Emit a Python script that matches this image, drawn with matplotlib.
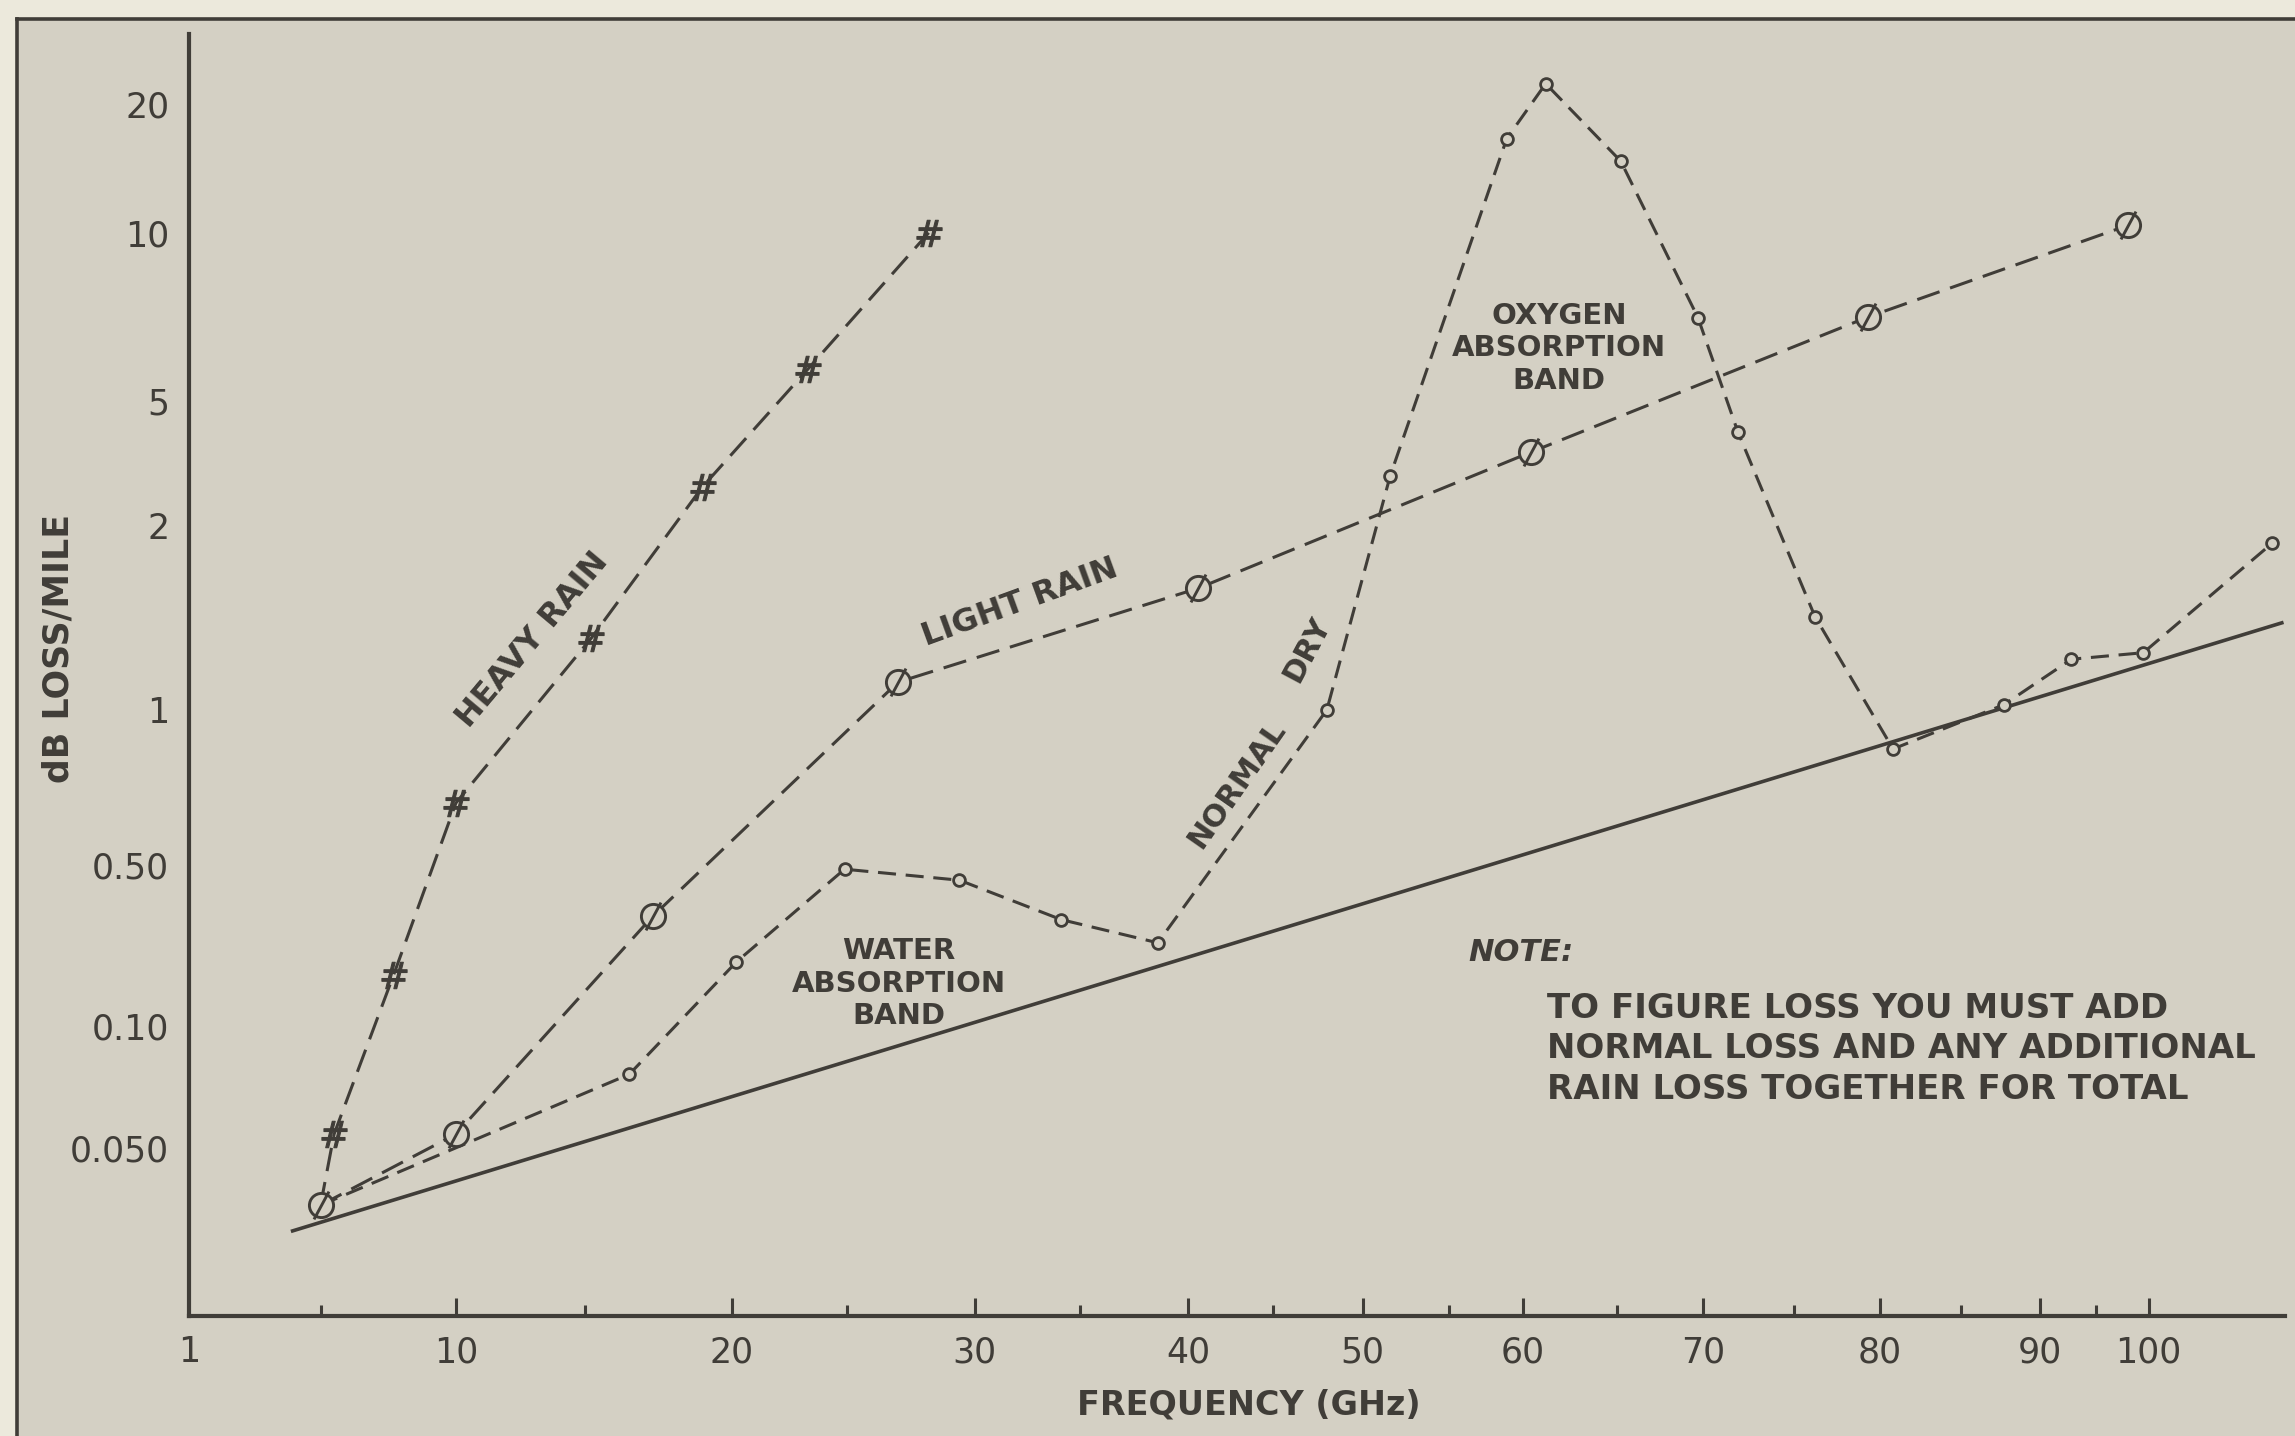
import numpy as np
import matplotlib
matplotlib.use("Agg")
import matplotlib.pyplot as plt
from matplotlib.path import Path
from matplotlib.lines import Line2D
from matplotlib.patches import Rectangle
from matplotlib.ticker import NullLocator, NullFormatter

# ---------------- data (frequency in GHz, loss in dB/mile) ----------------
NORMAL_FREQ = [4.1, 112.8]
NORMAL_LOSS = [0.031, 1.39]

HEAVY_FREQ = [5.0, 5.5, 7.7, 10.0, 15.2, 19.0, 23.3, 28.2]
HEAVY_LOSS = [0.036, 0.054, 0.167, 0.66, 1.31, 2.66, 5.7, 10.0]

LIGHT_FREQ = [5.0, 10.0, 17.3, 27.0, 40.6, 60.4, 79.3, 98.0]
LIGHT_LOSS = [0.036, 0.054, 0.30, 1.11, 1.58, 3.43, 7.07, 10.4]

DRY_FREQ = [5.0, 16.5, 20.2, 24.9, 29.4, 34.1, 38.6, 48.0, 51.6, 58.9, 61.2,
            65.2, 69.7, 71.9, 76.2, 80.8, 87.7, 92.8, 99.5, 111.7]
DRY_LOSS = [0.036, 0.076, 0.19, 0.48, 0.43, 0.29, 0.23, 1.0, 2.89, 16.6, 22.3,
            14.7, 7.05, 3.99, 1.42, 0.84, 1.02, 1.21, 1.24, 1.87]

X_TICKS = [10, 20, 30, 40, 50, 60, 70, 80, 90, 100]
X_TICK_LABELS = ["10", "20", "30", "40", "50", "60", "70", "80", "90", "100"]
X_MINOR_TICKS = [5, 15, 25, 35, 45, 55, 65, 75, 85, 95]
Y_TICKS = [0.05, 0.1, 0.5, 1, 2, 5, 10, 20]
Y_TICK_LABELS = ["0.050", "0.10", "0.50", "1", "2", "5", "10", "20"]

# ---------------- calibration of the hand-drawn (non-uniform) axes ----------------
X_CAL_VALUES = [1, 5, 10, 15, 20, 25, 30, 35, 40, 45, 50, 55, 60, 65, 70, 75,
                80, 85, 90, 95, 100]
X_CAL_POS = [129, 219, 311.5, 400, 500, 578.6, 666, 738, 811.7, 869.8, 931,
             990, 1040.6, 1105, 1163.6, 1226, 1284.5, 1340, 1394, 1432, 1468]
Y_CAL_VALUES = [0.05, 0.1, 0.5, 1, 2, 5, 10, 20]
Y_CAL_POS = [784, 701, 591, 485, 359, 274, 159, 71]

XV = np.array(X_CAL_VALUES, float)
XP = np.array(X_CAL_POS, float)
LV = np.log10(np.array(Y_CAL_VALUES, float))
YN = -np.array(Y_CAL_POS, float)


def _interp_ext(v, xs, ys):
    v = np.asarray(v, dtype=float)
    out = np.interp(v, xs, ys)
    lo = (ys[1] - ys[0]) / (xs[1] - xs[0])
    hi = (ys[-1] - ys[-2]) / (xs[-1] - xs[-2])
    out = np.where(v < xs[0], ys[0] + (v - xs[0]) * lo, out)
    out = np.where(v > xs[-1], ys[-1] + (v - xs[-1]) * hi, out)
    return out


def fwd_x(v):
    return _interp_ext(v, XV, XP)


def inv_x(p):
    return _interp_ext(p, XP, XV)


def fwd_y(v):
    v = np.clip(np.asarray(v, dtype=float), 1e-12, None)
    return _interp_ext(np.log10(v), LV, YN)


def inv_y(p):
    return 10 ** _interp_ext(p, YN, LV)


# ---------------- styling ----------------
W, H = 1568.0, 981.0          # reference layout units
OUTER = "#ece9dc"
INNER = "#d4d0c4"
INK = "#403d38"
FONT = "DejaVu Sans"
plt.rcParams["font.family"] = FONT
plt.rcParams["lines.scale_dashes"] = False


def P(px, py):
    return (px / W, 1 - py / H)


fig = plt.figure(figsize=(22.95, 14.36), dpi=100, facecolor=OUTER)

# paper panel with frame (top and left edges visible)
fx0, fy0 = P(16.5 / 1.4636, 19 / 1.4636)
fig.add_artist(Rectangle((fx0, 0), 1.01 - fx0, fy0, transform=fig.transFigure,
                         facecolor=INNER, edgecolor="none", zorder=-10))
fig.add_artist(Line2D([fx0, 1.01], [fy0, fy0], transform=fig.transFigure,
                      color=INK, lw=2.6, zorder=-5))
fig.add_artist(Line2D([fx0, fx0], [-0.01, fy0], transform=fig.transFigure,
                      color=INK, lw=2.6, zorder=-5))

ax_l, ax_r, ax_t, ax_b = 129, 1561, 23, 899
ax = fig.add_axes([ax_l / W, 1 - ax_b / H, (ax_r - ax_l) / W, (ax_b - ax_t) / H])
ax.set_facecolor("none")
ax.set_xscale("function", functions=(fwd_x, inv_x))
ax.set_yscale("function", functions=(fwd_y, inv_y))
ax.set_xlim(float(inv_x(ax_l)), float(inv_x(ax_r)))
ax.set_ylim(float(inv_y(-ax_b)), float(inv_y(-ax_t)))

for s in ["top", "right"]:
    ax.spines[s].set_visible(False)
for s in ["left", "bottom"]:
    ax.spines[s].set_color(INK)
    ax.spines[s].set_linewidth(3.0)

ax.set_xticks(X_TICKS)
ax.set_xticklabels(X_TICK_LABELS)
ax.set_xticks(X_MINOR_TICKS, minor=True)
ax.xaxis.set_minor_formatter(NullFormatter())
ax.set_yticks(Y_TICKS)
ax.set_yticklabels(Y_TICK_LABELS)
ax.yaxis.set_minor_locator(NullLocator())
ax.tick_params(axis="x", which="major", direction="in", length=13, width=2.2,
               color=INK, pad=14, labelsize=25, labelcolor=INK)
ax.tick_params(axis="x", which="minor", direction="in", length=8, width=2.2,
               color=INK)
ax.tick_params(axis="y", which="major", length=0, pad=14, labelsize=25,
               labelcolor=INK)
ax.annotate("1", xy=(1, 0), xycoords=("data", "axes fraction"),
            xytext=(0, -14), textcoords="offset points", ha="center",
            va="top", fontsize=25, color=INK, annotation_clip=False)

# ---------------- curves ----------------
slash_o = Path.make_compound_path(
    Path.unit_circle(),
    Path([(-0.62, -1.15), (0.62, 1.15)], [Path.MOVETO, Path.LINETO]))

ax.plot(NORMAL_FREQ, NORMAL_LOSS, color=INK, lw=2.6, solid_capstyle="butt",
        zorder=2)

ax.plot(HEAVY_FREQ, HEAVY_LOSS, color=INK, lw=2.2, linestyle=(0, (17, 8)),
        marker=r"$\#$", markersize=19, markevery=slice(1, None),
        markerfacecolor=INK, markeredgecolor=INK, markeredgewidth=0.8,
        zorder=3)

ax.plot(DRY_FREQ, DRY_LOSS, color=INK, lw=2.2, linestyle=(0, (13, 7)),
        marker="o", markersize=8.5, markevery=slice(1, None),
        markerfacecolor=INNER, markeredgecolor=INK, markeredgewidth=2.0,
        zorder=3)

ax.plot(LIGHT_FREQ, LIGHT_LOSS, color=INK, lw=2.2, linestyle=(0, (17, 8)),
        marker=slash_o, markersize=20, markerfacecolor=INNER,
        markeredgecolor=INK, markeredgewidth=2.1, zorder=4)

# ---------------- annotations ----------------
def ftext(px, py, s, **kw):
    kw.setdefault("fontsize", 21)
    kw.setdefault("color", INK)
    kw.setdefault("ha", "center")
    kw.setdefault("va", "center")
    kw.setdefault("fontweight", "bold")
    fig.text(*P(px, py), s, **kw)


ftext(364, 437, "HEAVY RAIN", rotation=50, rotation_mode="anchor", fontsize=23)
ftext(697, 412, "LIGHT RAIN", rotation=20, rotation_mode="anchor", fontsize=23)
ftext(845, 536, "NORMAL", rotation=55, rotation_mode="anchor", fontsize=22)
ftext(893, 444, "DRY", rotation=62, rotation_mode="anchor", fontsize=22)
ftext(1065, 238, "OXYGEN\nABSORPTION\nBAND", multialignment="center",
      linespacing=1.2)
ftext(614, 672, "WATER\nABSORPTION\nBAND", multialignment="center",
      linespacing=1.2)
ftext(1003, 651, "NOTE:", ha="left", style="italic", fontsize=22)
ftext(1057, 716.5,
      "TO FIGURE LOSS YOU MUST ADD\nNORMAL LOSS AND ANY ADDITIONAL\n"
      "RAIN LOSS TOGETHER FOR TOTAL",
      ha="left", multialignment="left", fontsize=24.5, linespacing=1.3)
ftext(40, 443, "dB LOSS/MILE", rotation=90, fontsize=25)
ftext(853, 960, "FREQUENCY (GHz)", fontsize=24)

fig.savefig("out.png", dpi=100, facecolor=OUTER)
